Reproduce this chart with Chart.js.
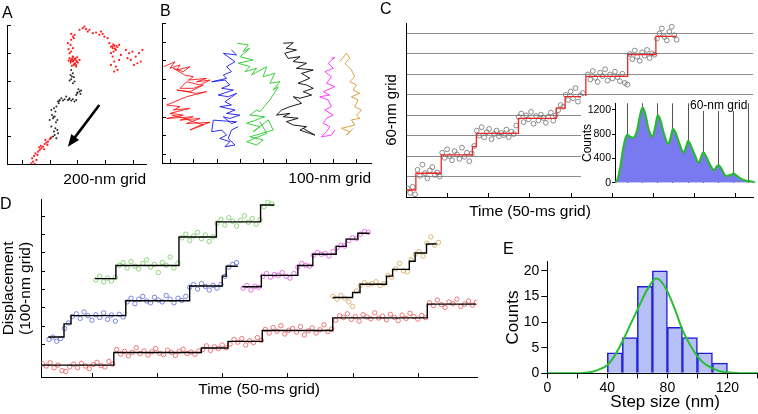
<!DOCTYPE html>
<html>
<head>
<meta charset="utf-8">
<script src="https://cdn.jsdelivr.net/npm/chart.js@4.4.1/dist/chart.umd.min.js"></script>
<style>
html, body { margin: 0; padding: 0; background: #fff; overflow: hidden; }
body { position: relative; width: 758px; height: 414px; font-family: 'Liberation Sans', Arial, sans-serif; }
canvas { position: absolute; }
.lbl { position: absolute; color: #000; white-space: nowrap; font-size: 16px; line-height: 16px; }
</style>
</head>
<body>
<canvas id="cA" width="150" height="190" style="left:0px;top:0px"></canvas>
<canvas id="cB" width="225" height="190" style="left:150px;top:0px"></canvas>
<canvas id="cC" width="380" height="222" style="left:378px;top:0px"></canvas>
<canvas id="cInset" width="177" height="94" style="left:581px;top:96px"></canvas>
<canvas id="cD" width="482" height="205" style="left:0px;top:195px"></canvas>
<canvas id="cE" width="283" height="164" style="left:500px;top:250px"></canvas>

<div class="lbl" style="left:2px;top:5px">A</div>
<div class="lbl" style="left:160px;top:3px">B</div>
<div class="lbl" style="left:380px;top:1px">C</div>
<div class="lbl" style="left:0px;top:196px">D</div>
<div class="lbl" style="left:503px;top:241px">E</div>
<div class="lbl" style="left:530px;top:203px;font-size:15.5px;transform:translateX(-50%)">Time (50-ms grid)</div>
<div class="lbl" style="left:690px;top:99px;font-size:12px;line-height:12px;background:#fff">60-nm grid</div>

<script>
Chart.defaults.font.family = "'Liberation Sans', Arial, sans-serif";
Chart.defaults.color = '#000';

// ---- A: 2D trajectory (nm), red / black dots
const aRedX = [269, 281, 274, 293, 305, 288, 298, 317, 312, 329, 341, 336, 353, 365, 377, 369, 388, 400, 384, 412, 360, 324,
  543, 555, 567, 579, 591, 603, 567, 584, 550, 598, 615, 574, 536, 591, 560, 543, 555, 536, 567, 550, 531, 555, 567, 579, 555, 574,
  615, 638, 650, 662, 674, 686, 710, 734, 757, 769, 781, 793, 817, 829, 841, 853, 864, 876, 888, 860, 900, 841, 853, 864, 876, 841,
  888, 864, 900, 912, 948, 972, 995, 1019, 1043, 1055, 1031, 983, 1067, 1007, 960,
  572, 586, 560, 596, 578, 565, 590, 552, 850, 870, 858, 880];
const aRedY = [5, 17, 41, 0, 29, 58, 77, 89, 65, 101, 113, 130, 125, 144, 154, 173, 161, 178, 137, 192, 106, 120,
  761, 749, 737, 754, 744, 730, 773, 725, 730, 768, 749, 713, 744, 701, 706, 797, 809, 826, 833, 857, 869, 893, 917, 929, 936, 905,
  965, 977, 989, 970, 953, 965, 941, 946, 929, 953, 936, 917, 905, 869, 845, 833, 850, 821, 840, 809, 857, 797, 773, 737, 701, 713,
  677, 665, 749, 785, 821, 797, 809, 773, 797, 737, 725, 749, 821, 713, 761,
  745, 760, 752, 735, 720, 765, 712, 740, 845, 830, 860, 850];
const aBlackX = [407, 424, 436, 448, 431, 455, 441, 460, 412, 400, 424, 436, 455, 417, 441, 431, 448, 412, 460, 472, 484, 496, 465,
  507, 531, 543, 555, 567, 579, 591, 519, 598, 615, 626, 607, 591, 622, 567, 579, 555, 574, 550, 567, 555, 543,
  430, 445, 470, 540, 600, 560];
const aBlackY = [185, 197, 209, 185, 233, 245, 257, 221, 269, 317, 329, 341, 317, 353, 377, 401, 413, 389, 449, 461, 473, 456, 437,
  466, 461, 473, 456, 466, 449, 461, 485, 509, 521, 528, 538, 497, 504, 581, 593, 610, 624, 641, 653, 677, 600,
  340, 300, 455, 465, 515, 630];
const aTicks = [200, 400, 600, 800, 1000];
const aArrowFrom = [757, 425];
const aArrowTo = [531, 125];

// ---- B: six trajectories (nm)
const bRedX = [74, 121, 100, 143, 129, 186, 157, 114, 164, 200, 179, 257, 214, 272, 229, 171, 143, 200, 243, 186, 129, 214, 257, 171,
  86, 143, 114, 186, 100, 157, 86, 200, 143, 229, 171, 272, 214, 186, 243, 200, 143, 107];
const bRedY = [567, 593, 558, 576, 549, 567, 540, 558, 522, 513, 495, 504, 486, 495, 469, 486, 451, 451, 469, 433, 442, 424, 433, 406,
  362, 353, 335, 344, 317, 308, 290, 299, 281, 290, 263, 269, 246, 228, 255, 272, 299, 308];
const bBlueX = [364, 386, 329, 379, 343, 364, 329, 343, 279, 336, 357, 322, 372, 307, 350, 386, 336, 364, 314, 379, 343, 400, 357, 329,
  364, 386, 286, 279, 322, 343, 314, 357, 336, 379, 350, 364, 393];
const bBlueY = [656, 629, 638, 593, 567, 540, 522, 504, 486, 495, 469, 451, 442, 415, 406, 424, 379, 362, 353, 335, 317, 308, 290, 299,
  263, 272, 281, 219, 228, 201, 183, 166, 139, 148, 183, 228, 246];
const bGreenX = [389, 436, 414, 443, 400, 457, 393, 443, 422, 472, 450, 515, 500, 550, 529, 572, 543, 565, 529, 486, 472, 443, 507, 429,
  486, 457, 522, 543, 443, 500, 472, 429, 515, 486];
const bGreenY = [692, 683, 647, 665, 620, 603, 585, 567, 540, 558, 522, 567, 513, 531, 478, 487, 442, 460, 389, 326, 335, 308, 299, 264,
  246, 219, 282, 228, 192, 175, 148, 166, 210, 273];
const bBlackX = [586, 629, 600, 643, 593, 607, 658, 629, 686, 643, 715, 665, 700, 650, 686, 715, 672, 708, 658, 629, 665, 615, 579, 557,
  615, 586, 650, 600, 629, 686, 658, 700, 722, 672];
const bBlackY = [692, 695, 665, 656, 638, 611, 620, 594, 585, 558, 549, 531, 505, 478, 469, 451, 433, 415, 398, 406, 371, 353, 335, 308,
  317, 299, 291, 273, 255, 246, 228, 210, 201, 237];
const bMagentaX = [793, 808, 779, 801, 765, 793, 772, 808, 758, 786, 743, 779, 793, 765, 801, 772, 758, 786, 772, 750, 793, 808];
const bMagentaY = [611, 617, 585, 558, 540, 513, 478, 460, 433, 415, 406, 389, 353, 335, 308, 291, 264, 246, 219, 192, 201, 228];
const bOrangeX = [829, 858, 872, 851, 879, 893, 872, 901, 886, 915, 879, 908, 893, 922, 901, 915, 879, 893, 865, 836, 872, 858, 886];
const bOrangeY = [594, 638, 611, 585, 549, 513, 487, 469, 442, 424, 406, 389, 353, 335, 308, 291, 282, 255, 246, 237, 219, 201, 237];
const bTicksX = [100, 200, 300, 400, 500, 600, 700, 800, 900];
const bTicksY = [100, 200, 300, 400, 500, 600, 700, 800];

// ---- C: stepping trace (time ms, position nm) + inset histogram
const cStepT = [1, 12, 42.8, 80.7, 85.5, 136.7, 182.6, 193.4, 218.6, 269.4, 303.7, 328.5];
const cStepY = [20.6, 69.7, 123.5, 148, 187, 231, 261, 295, 354, 418, 471.5];
const cT0 = 2, cDt = 3;
const cPosY = [25, 12, 30, 8,
  80, 62, 95, 70, 55, 78, 88, 65, 72, 60,
  130, 115, 140, 120, 108, 135, 125, 112, 145, 118, 130, 105, 128,
  150,
  195, 180, 205, 175, 190, 200, 170, 185, 195, 178, 188, 182, 198, 176, 192, 185, 210,
  235, 245, 220, 240, 228, 250, 215, 238, 225, 242, 232, 218, 236, 248, 224, 240,
  255, 270, 265,
  300, 285, 310, 290, 320, 280, 298, 305, 288,
  360, 345, 370, 350, 338, 365, 355, 375, 342, 360, 348, 368, 352, 340, 362, 335, 330,
  420, 405, 430, 412, 400, 425, 415, 432, 408, 422, 418,
  465, 480, 495, 470, 460, 485, 500, 475, 462];
const cGridY = [60, 120, 180, 240, 300, 360, 420, 480];
const cTicksX = [50, 100, 150, 200, 250, 300, 350, 400];
const insetX = [-48, -38, -28, -18, -8, 0, 10, 22, 38, 50, 60, 70, 84, 100, 112, 120, 130, 145, 162, 172, 180, 190, 206, 222, 233,
  240, 250, 266, 282, 292, 300, 310, 326, 342, 352, 360, 370, 390, 410, 420, 430, 450, 470, 490, 505];
const insetY = [0, 60, 250, 520, 720, 790, 760, 740, 850, 1100, 1240, 1150, 880, 760, 950, 1110, 1040, 800, 640, 760, 890, 830, 640, 500, 600,
  690, 620, 460, 330, 430, 500, 440, 300, 210, 260, 290, 240, 110, 130, 150, 120, 60, 30, 20, 0];
const insetGrid = [0, 60, 120, 180, 240, 300, 360, 420, 480];
const insetTicksY = [0, 400, 800, 1200];

// ---- D: five stepping traces (time ms, displacement nm)
const dDt = 3;
const dRedStepT = [11.5, 66.8, 134, 154.4, 180.7, 234.8, 307.3, 344.6];
const dRedStepY = [-15, 53.5, 78, 114.6, 174, 243, 318];
const dRedT0 = 12;
const dRedY = [-8, -20, -2, -30, -15, -45, -50, -25, -10, -30, -5, -20, -35, -12, 0, -18, -25, 5, -10,
  70, 45, 60, 35, 55, 80, 48, 62, 40, 58, 75, 50, 42, 66, 55, 38, 60, 72, 48, 56, 44, 62,
  70, 90, 65, 85, 75, 95, 80,
  100, 125, 110, 130, 95, 118, 108, 135, 120,
  180, 160, 190, 170, 200, 155, 175, 185, 165, 195, 150, 172, 188, 160, 178, 205, 168, 182,
  230, 255, 245, 265, 235, 250, 225, 260, 248, 238, 270, 242, 252, 232, 262, 246, 228, 258, 240, 268, 250, 236, 256, 244,
  325, 310, 340, 315, 300, 330, 320, 345, 305, 318, 335, 312, 328];
const dBlueStepT = [16.5, 28.6, 34, 76, 125, 150, 153, 162];
const dBlueStepY = [138, 210, 255, 336, 417, 471, 525];
const dBlueT0 = 17;
const dBlueY = [125, 138, 115, 130,
  185, 215,
  250, 265, 240, 275, 255, 230, 260, 245, 270, 235, 258, 225, 262, 248,
  330, 350, 320, 345, 360, 335, 325, 355, 340, 330, 365, 345, 325, 350, 338, 360,
  410, 425, 400, 430, 415, 395, 420, 405, 425,
  470,
  520, 535, 545];
const dGreenStepT = [52.3, 68.4, 116.8, 145.5, 179.4, 190];
const dGreenStepY = [457, 529, 684, 767, 859];
const dGreenT0 = 53;
const dGreenY = [450, 470, 440, 460, 445, 465,
  530, 545, 515, 550, 525, 510, 540, 560, 520, 535, 490, 545, 530, 575, 515, 540,
  680, 700, 665, 690, 710, 675, 695, 660, 685,
  760, 780, 750, 790, 770, 745, 775, 800, 765, 785, 755, 780,
  850, 875, 865];
const dMagentaStepT = [165.4, 180, 208, 219.5, 237.4, 245, 254, 263];
const dMagentaStepY = [413, 475, 529, 590, 633, 673, 705];
const dMagentaT0 = 166;
const dMagentaY = [405, 420, 395, 415, 410,
  470, 485, 465, 480, 475, 490, 470, 460, 485,
  520, 540, 530, 525,
  585, 600, 590, 595, 580, 605,
  625, 640, 635,
  665, 680, 675,
  700, 715, 710];
const dOrangeStepT = [234.8, 250, 255.7, 276, 280.7, 293.5, 298, 306.7, 314.4];
const dOrangeStepY = [354, 381, 426, 471, 507.5, 552, 597, 646];
const dOrangeT0 = 235;
const dOrangeY = [360, 345, 365, 350, 330,
  305, 390,
  420, 435, 425, 430, 440, 420, 430,
  475, 465,
  510, 540, 500, 495,
  560,
  590, 605, 580,
  650, 685, 640, 655];
const dTicksX = [50, 100, 150, 200, 250, 300];
const dTicksY = [100, 200, 300, 400, 500, 600, 700, 800];

// ---- E: step size histogram + gaussian fit
const eBinCenters = [45, 55, 65, 75, 85, 95, 105, 115];
const eCounts = [4, 7, 17, 20, 9, 7, 4, 2];
const eFitX = [0, 20, 25, 30, 35, 40, 45, 50, 55, 60, 65, 70, 72, 75, 80, 85, 90, 95, 100, 105, 110, 115, 120, 130, 157];
const eFitY = [0, 0, 0.1, 0.3, 0.8, 1.6, 3.5, 6.2, 9.3, 12.4, 15.5, 17.9, 18.5, 18.2, 16.0, 12.5, 8.5, 5.6, 3.3, 1.8, 1.0, 0.4, 0.2, 0, 0];

// helpers
function pairs(xs, ys) { return xs.map((x, i) => ({x: x, y: ys[i]})); }
function frames(t0, dt, ys) { return ys.map((y, i) => ({x: t0 + i * dt, y: y})); }
function stairs(ts, levels) { return ts.map((t, i) => ({x: t, y: levels[Math.min(i, levels.length - 1)]})); }

function bareAxis(min, max, fit, horizontal) {
  return {
    type: 'linear', min: min, max: max,
    ticks: { display: false },
    grid: { display: true, drawOnChartArea: false, drawTicks: false },
    border: { display: true, color: '#000', width: 1 },
    afterFit: horizontal ? s => { s.height = fit; } : s => { s.width = fit; }
  };
}

function baseOptions(pad) {
  return {
    responsive: false, animation: false, devicePixelRatio: 1, events: [],
    layout: { padding: pad },
    plugins: { legend: { display: false }, tooltip: { enabled: false } }
  };
}

// ticks in this figure point into the frame
const inTicks = {
  id: 'inTicks',
  afterDatasetsDraw(chart, args, o) {
    const ctx = chart.ctx, a = chart.chartArea, sx = chart.scales.x, sy = chart.scales.y;
    ctx.save();
    ctx.strokeStyle = '#000';
    ctx.lineWidth = 1;
    ctx.beginPath();
    (o.x || []).forEach(v => {
      const p = Math.round(sx.getPixelForValue(v)) + 0.5;
      ctx.moveTo(p, a.bottom); ctx.lineTo(p, a.bottom - o.len);
    });
    (o.y || []).forEach(v => {
      const p = Math.round(sy.getPixelForValue(v)) + 0.5;
      ctx.moveTo(a.left, p); ctx.lineTo(a.left + o.len, p);
    });
    ctx.stroke();
    ctx.restore();
  }
};

const arrowPlugin = {
  id: 'arrow',
  afterDatasetsDraw(chart, args, o) {
    const ctx = chart.ctx, sx = chart.scales.x, sy = chart.scales.y;
    const x1 = sx.getPixelForValue(o.from[0]), y1 = sy.getPixelForValue(o.from[1]);
    const x2 = sx.getPixelForValue(o.to[0]), y2 = sy.getPixelForValue(o.to[1]);
    const ang = Math.atan2(y2 - y1, x2 - x1), h = 13;
    ctx.save();
    ctx.strokeStyle = '#000';
    ctx.fillStyle = '#000';
    ctx.lineWidth = 2.6;
    ctx.beginPath();
    ctx.moveTo(x1, y1);
    ctx.lineTo(x2 - Math.cos(ang) * h * 0.7, y2 - Math.sin(ang) * h * 0.7);
    ctx.stroke();
    ctx.beginPath();
    ctx.moveTo(x2, y2);
    ctx.lineTo(x2 - h * Math.cos(ang - 0.38), y2 - h * Math.sin(ang - 0.38));
    ctx.lineTo(x2 - h * Math.cos(ang + 0.38), y2 - h * Math.sin(ang + 0.38));
    ctx.closePath();
    ctx.fill();
    ctx.restore();
  }
};

const whiteBg = {
  id: 'whiteBg',
  beforeDraw(chart) {
    const ctx = chart.ctx;
    ctx.save();
    ctx.fillStyle = '#fff';
    ctx.fillRect(0, 0, chart.width, chart.height);
    ctx.restore();
  }
};

// ---------- A
const optA = baseOptions({ top: 25, right: 3, left: 0, bottom: 0 });
optA.scales = {
  x: Object.assign(bareAxis(93, 1093, 26, true), {
    title: { display: true, text: '200-nm grid', align: 'end', font: { size: 15.5 }, padding: { top: 0, bottom: 0.5 } }
  }),
  y: bareAxis(0, 1000, 7, false)
};
optA.plugins.inTicks = { len: 4, x: aTicks, y: aTicks };
optA.plugins.arrow = { from: aArrowFrom, to: aArrowTo };
new Chart(document.getElementById('cA'), {
  type: 'scatter',
  data: { datasets: [
    { data: pairs(aRedX, aRedY), pointRadius: 1.1, pointBorderWidth: 0, pointBackgroundColor: 'rgb(255,30,30)' },
    { data: pairs(aBlackX, aBlackY), pointRadius: 1, pointBorderWidth: 0, pointBackgroundColor: 'rgb(40,40,40)' }
  ] },
  options: optA,
  plugins: [inTicks, arrowPlugin]
});

// ---------- B
function walk(xs, ys, color) {
  return { data: pairs(xs, ys), showLine: true, borderColor: color, borderWidth: 0.9, pointRadius: 0, tension: 0 };
}
const optB = baseOptions({ top: 23, right: 4, left: 0, bottom: 0 });
optB.scales = {
  x: Object.assign(bareAxis(65.7, 963, 27, true), {
    title: { display: true, text: '100-nm grid', align: 'end', font: { size: 15.5 }, padding: { top: 0, bottom: 2 } }
  }),
  y: bareAxis(52, 800, 12, false)
};
optB.plugins.inTicks = { len: 4, x: bTicksX, y: bTicksY };
new Chart(document.getElementById('cB'), {
  type: 'scatter',
  data: { datasets: [
    walk(bRedX, bRedY, 'rgb(255,20,20)'),
    walk(bBlueX, bBlueY, 'rgb(25,25,235)'),
    walk(bGreenX, bGreenY, 'rgb(40,200,40)'),
    walk(bBlackX, bBlackY, 'rgb(0,0,0)'),
    walk(bMagentaX, bMagentaY, 'rgb(255,40,255)'),
    walk(bOrangeX, bOrangeY, 'rgb(215,150,45)')
  ] },
  options: optB,
  plugins: [inTicks]
});

// ---------- C main
const optC = baseOptions({ top: 23, right: 0, left: 0, bottom: 0 });
const cY = bareAxis(0, 511, 28, false);
cY.grid = { display: true, drawOnChartArea: true, drawTicks: false, color: 'rgb(140,140,140)', lineWidth: 1 };
cY.afterBuildTicks = s => { s.ticks = cGridY.map(v => ({ value: v })); };
cY.title = { display: true, text: '60-nm grid', font: { size: 15 }, padding: { top: 5, bottom: 0 } };
optC.scales = { x: bareAxis(0, 422, 25, true), y: cY };
optC.plugins.inTicks = { len: 4, x: cTicksX, y: [] };
new Chart(document.getElementById('cC'), {
  type: 'scatter',
  data: { datasets: [
    { data: stairs(cStepT, cStepY), showLine: true, stepped: 'before', borderColor: 'rgb(235,40,40)', borderWidth: 1.3, pointRadius: 0 },
    { data: frames(cT0, cDt, cPosY), pointRadius: 2.4, pointBorderWidth: 0.8, pointBorderColor: 'rgb(110,110,110)', pointBackgroundColor: 'rgba(0,0,0,0)' }
  ] },
  options: optC,
  plugins: [inTicks]
});

// ---------- C inset
const optI = baseOptions({ top: 4, right: 1, left: 0, bottom: 0 });
const iX = bareAxis(-48.6, 512, 2, true);
iX.grid = { display: true, drawOnChartArea: true, drawTicks: false, color: 'rgb(85,85,85)', lineWidth: 1 };
iX.border = { display: false };
iX.afterBuildTicks = s => { s.ticks = insetGrid.map(v => ({ value: v })); };
optI.scales = {
  x: iX,
  y: {
    type: 'linear', min: 0, max: 1310,
    afterBuildTicks: s => { s.ticks = insetTicksY.map(v => ({ value: v })); },
    ticks: { font: { size: 10.5 }, padding: 1, callback: v => String(v) },
    grid: { drawOnChartArea: false, tickLength: 3, color: '#000' },
    border: { display: true, color: '#000' },
    title: { display: true, text: 'Counts', font: { size: 12, lineHeight: 1 }, padding: { top: 1, bottom: 0 } },
    afterFit: s => { s.width = 34; }
  }
};
new Chart(document.getElementById('cInset'), {
  type: 'line',
  data: { datasets: [
    { data: pairs(insetX, insetY), fill: 'origin', backgroundColor: 'rgb(122,122,240)', borderColor: 'rgb(40,185,50)',
      borderWidth: 2.2, tension: 0.4, cubicInterpolationMode: 'monotone', pointRadius: 0 }
  ] },
  options: optI,
  plugins: [whiteBg]
});

// ---------- D
function steps(ts, levels) {
  return { data: stairs(ts, levels), showLine: true, stepped: 'before', borderColor: '#000', borderWidth: 1.4, pointRadius: 0 };
}
function dots(t0, ys, color) {
  return { data: frames(t0, dDt, ys), pointRadius: 2.2, pointBorderWidth: 0.8, pointBorderColor: color, pointBackgroundColor: 'rgba(0,0,0,0)' };
}
const optD = baseOptions({ top: 3, right: 4, left: 0, bottom: 0 });
optD.scales = {
  x: Object.assign(bareAxis(10.95, 345.6, 23, true), {
    title: { display: true, text: 'Time (50-ms grid)', font: { size: 15.5 }, padding: { top: 0, bottom: 0.7 } }
  }),
  y: Object.assign(bareAxis(-80, 887.5, 41, false), {
    title: { display: true, text: ['Displacement', '(100-nm grid)'], font: { size: 15.5, lineHeight: 1.1 }, padding: { top: 0.5, bottom: 0 } }
  })
};
optD.plugins.inTicks = { len: 4, x: dTicksX, y: dTicksY };
new Chart(document.getElementById('cD'), {
  type: 'scatter',
  data: { datasets: [
    steps(dRedStepT, dRedStepY),
    steps(dBlueStepT, dBlueStepY),
    steps(dGreenStepT, dGreenStepY),
    steps(dMagentaStepT, dMagentaStepY),
    steps(dOrangeStepT, dOrangeStepY),
    dots(dRedT0, dRedY, 'rgb(240,85,85)'),
    dots(dBlueT0, dBlueY, 'rgb(85,105,220)'),
    dots(dGreenT0, dGreenY, 'rgb(115,205,95)'),
    dots(dMagentaT0, dMagentaY, 'rgb(228,80,228)'),
    dots(dOrangeT0, dOrangeY, 'rgb(212,165,85)')
  ] },
  options: optD,
  plugins: [inTicks]
});

// ---------- E
const optE = baseOptions({ top: 11.7, right: 0, left: 0, bottom: 0 });
optE.scales = {
  x: {
    type: 'linear', min: 0, max: 157, offset: false,
    ticks: { stepSize: 20, autoSkip: false, includeBounds: false, maxRotation: 0, font: { size: 14 }, padding: 1,
      callback: v => (v % 40 === 0 ? v : '') },
    grid: { offset: false, drawOnChartArea: false, tickLength: 5, color: '#000' },
    border: { display: true, color: '#000' },
    title: { display: true, text: 'Step size (nm)', font: { size: 17 }, padding: { top: 0, bottom: 1 } },
    afterFit: s => { s.height = 40.7; }
  },
  y: {
    type: 'linear', min: 0, max: 21.8,
    ticks: { stepSize: 5, includeBounds: false, font: { size: 14 }, padding: 2 },
    grid: { drawOnChartArea: false, tickLength: 6, color: '#000' },
    border: { display: true, color: '#000' },
    title: { display: true, text: 'Counts', font: { size: 17 }, padding: { top: 3, bottom: 0 } },
    afterFit: s => { s.width = 47.3; }
  }
};
new Chart(document.getElementById('cE'), {
  type: 'bar',
  data: { datasets: [
    { type: 'line', data: pairs(eFitX, eFitY), borderColor: 'rgb(40,190,50)', borderWidth: 2, pointRadius: 0,
      tension: 0.4, cubicInterpolationMode: 'monotone', fill: false },
    { type: 'bar', data: pairs(eBinCenters, eCounts), backgroundColor: 'rgb(182,192,245)', borderColor: 'rgb(30,30,215)',
      borderWidth: 1.5, barPercentage: 1, categoryPercentage: 1 }
  ] },
  options: optE
});
</script>
</body>
</html>
